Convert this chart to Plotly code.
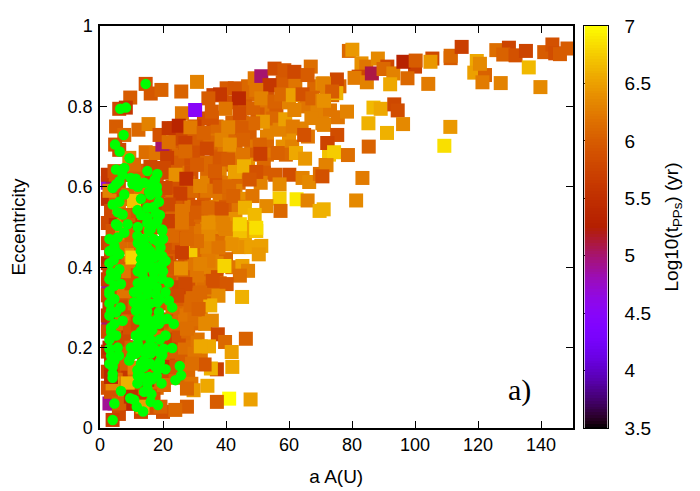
import numpy as np
import plotly.graph_objects as go

# (a, e, log10 t), region by region
# low-t squares that only peek out from under the others
buried_squares = [
    (2.6,.24,4.6),(2.6,.333,4.6),(2.5,.61,4.7),(4,.622,5.0),(3,.061,4.9),(4.6,.061,4.9),(8.2,.201,4.9),(15.6,.602,4.9),
    (14,.56,4.8),(16.6,.144,5.0),(16,.22,5.0),(2.6,.25,5.0),(2.6,.34,4.9),
]

core_squares = [
    (2.5,.63,5.6),(5,.63,5.9),(7.5,.63,6.1),(9,.63,5.8),(11,.63,6.0),(14,.63,6.2),(16,.63,5.7),(18,.63,5.9),
    (2.5,.57,5.5),(5,.57,6.0),(7.5,.57,5.8),(9,.57,6.2),(11,.57,5.9),(14,.57,6.0),(16,.57,5.6),(18,.57,5.8),
    (2.5,.51,5.8),(5,.51,5.5),(7.5,.51,6.2),(9,.51,6.0),(11,.51,5.7),(14,.51,6.1),(16,.51,5.9),(18,.51,5.7),
    (2.5,.46,5.7),(5,.46,5.9),(7.5,.46,6.0),(9,.46,6.3),(11,.46,6.1),(14,.46,5.8),(16,.46,6.0),(18,.46,5.9),
    (2.5,.41,5.4),(5,.41,5.8),(7.5,.41,5.7),(9,.41,6.1),(11,.41,5.9),(14,.41,5.7),(16,.41,6.1),(18,.41,5.8),
    (2.5,.37,5.6),(5,.37,6.0),(7.5,.37,5.9),(9,.37,5.8),(11,.37,6.2),(14,.37,5.9),(16,.37,5.6),(18,.37,6.0),
    (2.5,.33,5.7),(5,.33,5.5),(7.5,.33,6.0),(9,.33,5.9),(11,.33,5.8),(14,.33,6.1),(16,.33,5.9),(18,.33,5.7),
    (2.5,.28,5.5),(5,.28,5.8),(7.5,.28,5.6),(9,.28,6.1),(11,.28,6.0),(14,.28,5.7),(16,.28,6.0),(18,.28,5.9),
    (2.5,.24,5.8),(5,.24,5.9),(7.5,.24,6.1),(9,.24,5.6),(11,.24,5.9),(14,.24,6.0),(16,.24,5.8),(18,.24,6.1),
    (2.5,.19,5.6),(5,.19,5.7),(7.5,.19,5.9),(9,.19,6.0),(11,.19,5.7),(14,.19,5.9),(16,.19,6.1),(18,.19,5.8),
    (2.5,.14,5.7),(5,.14,6.0),(7.5,.14,5.8),(9,.14,5.6),(11,.14,6.1),(14,.14,5.7),(16,.14,5.9),(18,.14,6.0),
    (2.5,.1,5.9),(5,.1,5.6),(7.5,.1,6.1),(9,.1,5.9),(11,.1,5.5),(14,.1,6.0),(16,.1,5.7),(18,.1,6.1),
]

fill_squares = [
    (23.5,.745,5.7),(31,.745,6.0),(36,.745,5.8),(39.5,.745,6.1),(47,.745,6.2),(54,.745,6.3),(59,.745,6.2),(64,.745,6.3),
    (24,.725,5.9),(28,.725,5.8),(34,.725,6.0),(37,.725,6.2),(41,.725,5.9),(43,.725,6.1),(47.5,.725,6.0),(53,.725,6.3),(60,.725,6.4),(66,.725,6.2),
    (24.5,.7,6.0),(30,.7,5.9),(36,.7,6.1),(39,.7,6.3),(43,.7,6.0),(48,.7,6.2),(53,.7,6.1),(58,.7,6.4),(61,.7,6.3),
    (23,.68,5.8),(25,.68,6.1),(31,.68,5.9),(37,.68,6.0),(39.5,.68,6.2),(43,.68,6.3),(48,.68,6.0),(53,.68,6.2),(59,.68,6.1),
    (23,.655,5.9),(27,.655,6.0),(33,.655,6.1),(36,.655,6.3),(40,.655,5.8),(43,.655,6.2),(47,.655,6.4),(52,.655,6.1),
    (22,.635,5.8),(26,.635,6.2),(29,.635,5.9),(34,.635,6.1),(38,.635,6.3),(45,.635,6.2),(52,.635,6.0),
    (24,.61,6.0),(28,.61,6.1),(34,.61,6.3),(37,.61,5.9),(41,.61,6.2),(44,.61,6.1),(51,.61,6.3),
    (21,.59,5.9),(26,.59,6.0),(31,.59,6.2),(36,.59,6.1),(43,.59,6.3),
    (23,.57,6.1),(28,.57,5.9),(33,.57,6.0),(38,.57,6.2),(41,.57,6.1),(46,.57,6.4),
    (20,.55,5.7),(24,.55,6.0),(29,.55,6.2),(31,.55,5.9),(37,.55,6.3),(40,.55,6.0),(44,.55,6.2),
    (20,.52,5.9),(24,.52,6.1),(29,.52,6.0),(36,.52,6.2),(40,.52,6.3),(43,.52,6.4),
    (22,.5,5.8),(27,.5,6.2),(31,.5,6.1),(34,.5,6.3),(42,.5,6.4),(46,.5,6.5),
    (21,.47,6.0),(25,.47,5.9),(29,.47,6.2),(33,.47,6.3),(37,.47,6.1),(40,.47,6.3),(46,.47,6.5),
    (20,.45,5.9),(28,.45,6.1),(33,.45,6.2),(36,.45,6.3),(44,.45,6.4),(48,.45,6.5),
    (22,.42,6.0),(27,.42,5.9),(30,.42,6.2),(36,.42,6.3),(40,.42,6.1),
    (22,.4,5.8),(29,.4,6.1),(35,.4,6.3),(37,.4,6.0),(42,.4,6.2),
    (23,.38,6.0),(27,.38,6.2),(33,.38,6.1),(37,.38,5.9),
    (23,.36,5.9),(26,.36,6.1),(30,.36,6.0),(32,.36,6.2),(38,.36,6.1),
    (22,.33,5.8),(27,.33,6.1),(30,.33,6.2),(34,.33,6.3),
    (24,.31,6.0),(27,.31,6.2),(33,.31,6.1),
    (24,.285,6.1),(29,.285,6.0),(32,.285,6.3),
    (21,.26,5.9),(26,.26,6.2),(30,.26,6.1),
    (22,.23,6.0),(27,.23,6.1),
    (25,.2,5.9),(29,.2,6.2),
    (24,.17,6.0),(28,.17,6.1),(32,.17,6.2),
    (23,.13,5.9),(26,.13,6.1),
    (47,.83,6.1),(53,.79,6.2),(56,.8,6.0),(60,.81,6.3),(65,.8,6.2),(69,.79,6.3),(73,.79,6.2),(55,.77,6.1),(50,.78,6.0),
    (42,.81,5.9),(46,.8,6.0),(47,.85,6.1),(53,.84,5.9),(58,.86,6.0),(62,.86,6.2),(68,.85,6.1),(72,.84,6.3),(76,.85,6.1),
]

inner_squares = [
    (3.5,.09,5.9),(6,.035,5.8),(13,.04,5.8),(10,.06,5.4),(13,.07,5.6),(17,.08,5.9),(20,.04,5.9),(17,.05,5.9),
    (8,.09,6.2),(5,.12,6.1),(12,.1,5.9),(15,.12,5.5),(20,.13,5.8),(24,.125,6.0),(23,.16,5.8),(28,.14,6.1),
    (26,.18,6.0),(29,.11,6.2),(3.5,.16,5.5),(6,.17,5.9),(8.5,.16,6.0),(11,.15,6.3),(14,.16,5.8),(17,.17,5.6),
    (20,.18,6.0),(23,.19,6.0),(27,.2,6.15),(30,.185,6.2),(3,.2,5.4),(5,.21,5.7),(7.5,.22,5.8),(10,.2,6.0),
    (13,.21,5.7),(19,.21,5.9),(22,.22,5.7),(25,.23,5.9),(28,.24,6.1),(31,.22,6.2),
    (4.5,.26,5.6),(7,.26,6.1),(9.5,.25,5.9),(12,.26,5.8),(15,.25,6.0),(18,.26,5.7),(21,.27,5.85),(24,.26,6.1),
    (27,.28,6.2),(30,.27,6.15),(3,.3,5.6),(5.5,.31,5.9),(8,.3,5.8),(11,.31,6.0),(14,.29,5.9),(17,.3,5.6),
    (20,.31,5.9),(23,.3,6.1),(26,.32,6.0),(29,.33,6.1),(5,.35,5.8),(7.5,.34,6.2),(10,.36,5.9),
    (13,.35,6.0),(16,.34,5.7),(19,.35,5.8),(22,.36,5.95),(25,.35,5.75),(28,.37,5.9),(33,.35,6.15),(36,.35,6.1),
    (3,.39,5.7),(6,.4,6.0),(9,.39,6.2),(12,.38,5.9),(15,.4,5.8),(18,.39,6.0),(21,.41,5.8),(24,.4,5.95),
    (27,.39,6.05),(30,.41,6.2),(33,.4,6.3),(37,.41,6.3),(3.5,.44,5.8),(6.5,.45,6.1),(10,.43,6.4),(13,.44,6.1),
    (16,.45,5.9),(19,.44,6.0),(22,.45,5.9),(25,.46,6.0),(31,.44,6.1),(34,.45,6.3),(38,.46,6.15),(42,.46,6.45),
    (4,.49,5.9),(7,.5,6.3),(10,.48,6.0),(13,.5,5.7),(16,.49,6.2),(19,.5,5.9),(24,.48,6.0),(28,.5,6.1),
    (32,.49,6.2),(36,.5,6.35),(3.5,.54,5.8),(6,.55,6.2),(9,.53,6.0),(12,.54,5.9),(15,.55,5.8),(18,.53,5.7),
    (23,.53,6.05),(28,.52,6.0),(32,.53,6.1),(37,.53,6.3),(3,.59,6.3),(6,.6,5.9),(9,.58,6.1),(13,.6,6.2),
    (17,.58,5.9),(23,.6,5.9),(29,.59,6.1),(34,.59,6.2),(38,.6,6.0),(41,.6,6.1),(12,.64,6.0),(16,.65,5.8),
    (24,.66,6.0),(29,.67,5.9),(34,.66,6.1),(38,.67,5.95),(42,.66,6.2),(25,.72,5.8),(30,.72,6.0),(35,.71,6.1),
    (45,.76,6.1),(42,.76,6.05),(37,.75,6.1),(33,.77,5.9),(30,.75,5.7),
]

lower_squares = [
    (49.6,.49,6.7),(51.2,.453,6.5),(50.4,.432,6.45),(44.4,.49,6.7),(41.8,.457,6.4),(37.6,.449,6.2),(39.7,.498,6.3),
    (34.4,.482,6.35),(28.7,.442,6.75),(39.5,.403,6.8),(45.2,.403,6.5),(47,.391,6.3),(44.4,.379,6.15),(40.2,.358,5.95),
    (35.8,.366,5.9),(30.8,.379,6.2),(25.7,.397,6.4),(34.4,.416,6.25),(31.8,.408,6.3),(27.1,.358,5.8),(26,.437,5.7),
    (22.9,.478,6.1),(26,.507,6.1),(30.8,.465,6.15),(27.6,.47,6.1),(37.6,.329,6.35),(45.1,.326,6.6),(35,.305,6.6),
    (31.8,.337,6.1),(28.7,.305,6.1),(24.5,.329,5.8),(31.3,.296,6.05),(35.5,.267,6.35),(33.4,.259,6.35),(27.6,.247,6.15),
    (37.4,.233,5.8),(39.7,.214,6.1),(46.3,.222,6.05),(34.6,.203,6.55),(32,.203,6.55),(41.8,.189,6.5),(42,.152,6.55),
    (37.1,.146,5.7),(35.2,.148,6.6),(33.2,.158,5.95),(29.2,.16,6.15),(34.1,.105,6.55),(29.7,.094,6.45),(27.6,.098,6.1),
    (41,.073,7.0),(47.8,.071,6.5),(37.1,.065,6.0),(27.6,.053,6.0),(23.9,.045,6.1),(19.2,.053,6.05),(13.5,.053,6.5),
    (8.8,.111,6.6),(4,.02,5.7),(6.1,.061,6.0),(9.8,.078,5.5),(20.3,.107,6.1),(23.4,.152,5.9),
    (19.8,.152,5.5),(4,.111,6.35),(3.5,.127,5.4),(10.3,.424,6.8),
]

upper_squares = [
    (14.5,.856,5.9),(16.1,.832,5.95),(19.5,.841,6.05),(25.8,.837,6.05),(30.8,.861,6.3),(9.6,.822,6.0),(6.1,.794,5.8),
    (8.2,.797,5.6),(26,.783,6.2),(5.1,.75,6.0),(7.7,.729,6.1),(12.2,.742,6.1),(15.4,.756,6.3),(4.8,.705,5.9),(6.1,.692,5.8),
    (9.3,.672,6.3),(14.5,.686,6.15),(4.6,.639,5.9),(10.8,.655,6.1),(17.7,.684,6.2),(19.8,.705,5.0),
    (18.9,.729,5.9),(21.8,.746,5.6),(25,.752,5.35),(28.7,.748,6.25),(35.5,.772,5.9),(32.9,.734,6.05),(21.8,.711,6.15),
    (27.1,.709,5.7),(27.1,.688,6.1),(33.9,.695,5.8),(21.3,.672,5.7),(30.8,.655,6.0),(20.3,.647,5.8),(24,.63,6.4),(27.4,.62,5.5),
    (31.8,.602,6.3),(20.8,.597,5.8),(25.5,.583,5.7),(10.8,.565,6.7),(21.8,.556,5.8),(21.8,.515,5.7),
    (26,.54,6.2),(26,.511,6.2),(30.8,.536,6.0),(34.4,.548,6.1),(39.1,.507,6.3),(38.6,.546,5.9),(34.4,.511,6.4),
    (36,.828,5.7),(38.6,.828,5.9),(40.2,.845,6.0),(42.8,.845,5.95),(38.1,.83,5.6),(44.1,.82,5.4),(34.4,.82,6.0),(39.9,.794,6.2),
    (35.5,.787,6.0),(44.4,.783,5.85),(48.6,.795,6.05),(49.1,.87,6.2),(51.2,.875,5.0),(53.8,.853,5.6),(55.4,.894,5.85),(58.5,.89,5.95),
    (61.7,.886,5.8),(66.9,.899,6.15),(65.9,.878,6.0),(70.6,.857,6.35),(49.6,.841,6.2),(51.2,.82,6.3),(55.4,.812,6.05),(57.5,.83,6.1),
    (61.2,.828,6.5),(64.3,.83,5.9),(67.4,.82,6.05),(70.6,.814,6.3),(73.7,.828,6.1),(51.7,.762,6.45),(48.6,.758,6.1),(57,.742,6.3),
    (58.8,.768,6.5),(61.7,.791,6.3),(61.2,.75,6.25),(67.1,.771,6.3),(70.6,.758,6.3),(64.8,.729,5.9),(72.2,.709,5.85),(72.7,.68,6.7),
    (44.9,.746,6.0),(40.7,.748,6.3),(45.4,.717,6.05),(38.6,.717,6.3),(41.2,.705,6.4),(50.7,.705,6.05),(56.4,.684,6.05),(62.2,.684,6.55),
    (65.1,.67,6.45),(50.9,.682,5.7),(45.4,.68,6.2),(40.7,.668,6.0),(36.5,.639,6.0),(42.8,.637,6.5),(45.7,.651,6.6),(49.6,.637,5.9),
    (47.5,.618,5.95),(55.6,.63,6.0),(60.1,.63,5.85),(64.3,.622,6.3),(66.4,.612,6.35),(69.8,.632,6.15),(71.6,.654,6.2),(57,.606,6.35),
    (57,.571,6.75),(62.4,.569,6.9),(65.9,.566,6.3),(69.7,.54,6.6),(57.3,.54,6.1),(52.8,.552,6.35),(48.4,.577,6.2),(42.3,.577,6.05),
    (46,.548,6.6),(49.1,.53,6.65),(44.4,.507,6.8),(49.6,.498,6.85),(30.2,.791,4.5),
]

far_squares = [
    (79,.938,6.1),(80.1,.941,6.45),(83,.907,6.4),(84.5,.899,6.2),(88.2,.919,6.35),(91.2,.899,5.8),(82.1,.874,5.8),(80.8,.871,6.25),
    (84.7,.86,6.3),(86.3,.882,5.1),(90,.893,6.1),(93.1,.882,6.3),(92.1,.855,6.55),(100,.899,5.7),(96.3,.911,5.3),(100.2,.914,6.0),
    (97.6,.87,6.1),(105.5,.919,5.8),(104.9,.911,6.45),(104.2,.856,6.25),(111.3,.92,6.0),(111.3,.926,6.1),(114.8,.948,5.7),(119.6,.913,6.55),
    (118.8,.884,6.5),(122.2,.878,6.05),(120.6,.906,6.35),(121.4,.86,6.25),(127.2,.858,6.3),(125.8,.94,6.15),(129.8,.946,5.75),(128,.929,6.05),
    (131.9,.927,5.9),(135.2,.938,5.75),(141,.935,6.0),(143.6,.954,5.9),(144.5,.932,5.85),(146,.93,6.0),(148.4,.944,6.0),(136.1,.897,6.65),
    (139.8,.848,6.35),(75.2,.867,5.8),(75,.833,6.6),(71.1,.857,6.3),(73.7,.837,6.0),(71.1,.814,6.4),(75.5,.773,6.2),(78.4,.787,6.3),
    (86.8,.797,6.65),(89.1,.794,6.55),(93.4,.805,5.8),(94.5,.79,5.85),(85.2,.758,6.6),(96.2,.756,6.35),(91.1,.734,6.6),(111.2,.749,6.45),
    (109.3,.702,6.85),(71.1,.754,6.3),(75.3,.729,5.85),(72.2,.709,5.75),(74.3,.686,6.75),(78.7,.679,6.15),(85.3,.7,6.05),(71.9,.654,6.3),
    (83.3,.622,6.25),(81.3,.566,6.35),(70.6,.626,5.9),(71,.544,6.6),
]

# green population, (a, e)
green_low = [
    (4.03,.02),(4.56,.061),(6.65,.092),(9.59,.074),(10.85,.07),(11.68,.053),(13.68,.041),(18.39,.057),(16.09,.065),(16.3,.084),
    (15.04,.098),(11.89,.111),(19.54,.111),(23.95,.119),(25.73,.131),(25.31,.154),(20.8,.146),(18.7,.148),(16.6,.121),(15.56,.127),
    (13.47,.127),(11.89,.144),(17.66,.152),(14,.152),(9.27,.168),(11.37,.185),(14,.168),(16.09,.185),(19.75,.181),(22.9,.199),
    (20.28,.197),(18.7,.189),(9.8,.2),(11.89,.206),(15.04,.2),(13.47,.23),(11.37,.23),(14,.251),(15.56,.243),(20.8,.23),
    (23.42,.259),(21.33,.272),(18.7,.259),(16.6,.243),(13.47,.267),(15.04,.272),(14,.288),(11.37,.292),(10.8,.313),(14,.309),
    (18.7,.288),(22.9,.3),(21.85,.317),(18.18,.313),(20.8,.338),(17.66,.333),(15.04,.333),(11.89,.338),(10.8,.338),(13.47,.354),
    (16.09,.358),(19.75,.371),(21.85,.362),(17.13,.387),(13.47,.383),(12.94,.403),(15.56,.412),(19.75,.408),(20.8,.416),(19.75,.428),
    (17.13,.424),(14.51,.428),(12.94,.441),(15.04,.449),(19.22,.449),(18.18,.465),(14,.457),(11.89,.478),(15.56,.49),(19.75,.49),
]

green_left = [
    (17.13,.507),(5.6,.503),(7.7,.486),(5.6,.474),(4.56,.453),(6.13,.432),(4.35,.418),(3.51,.387),
    (6.13,.395),(5.08,.379),(6.65,.358),(4.56,.354),(2.99,.333),(4.56,.321),(3.51,.292),(5.08,.288),(7.18,.267),(4.56,.259),
    (3.51,.239),(5.08,.23),(2.99,.197),(5.6,.2),(4.56,.168),(4.03,.152),(4.03,.135),(2.99,.16),
    (3,.47),(3,.44),(5,.44),(3,.41),(3,.37),(3,.34),(3,.31),(6.5,.3),(3,.28),(3.5,.25),(3,.22),(3.5,.18),(6,.18),(4,.125),
]

green_right = [
    (12,.6),(14,.61),(16,.58),(18,.6),(13,.57),(17,.55),(19,.53),(13,.53),(15,.51),(12,.5),(14,.47),(17,.47),(20,.47),(12,.46),
    (16,.44),(18,.43),(13,.42),(15,.4),(18,.4),(12,.39),(14,.37),(17,.37),(20,.39),(12,.36),(15,.34),(18,.35),(13,.32),(16,.31),
    (19,.32),(12,.3),(15,.29),(18,.27),(12,.27),(16,.26),(20,.27),(13,.24),(16,.22),(19,.22),(12,.21),(14,.19),(17,.2),(10,.18),
    (13,.16),(16,.16),(19,.165),(12,.13),(15,.11),(18,.13),(14,.09),
]

green_high = [
    (14.51,.856),(6.44,.794),(8.23,.797),(7.49,.729),(4.77,.705),(6.23,.688),(9.38,.671),(5.08,.643),(7.7,.647),(7.18,.63),
    (11.37,.62),(9.8,.622),(6.13,.614),(5.08,.606),(4.03,.597),(10.32,.607),(15.04,.639),(18.18,.632),(17.45,.618),(16.3,.607),
    (15.56,.587),(18.18,.585),(18.7,.563),(11.89,.542),(7.7,.581),(6.13,.563),(4.03,.556),(5.6,.537),(7.18,.531),(8.75,.507),
    (5.08,.507),(17.66,.535),(15.04,.548),(15.04,.523),(18.18,.515),(16.09,.494),(19.75,.494),
]

cb_ticks = [3.5, 4, 4.5, 5, 5.5, 6, 6.5, 7]
x_ticks = [0, 20, 40, 60, 80, 100, 120, 140]
y_ticks = [0, 0.2, 0.4, 0.6, 0.8, 1]


# gnuplot default pm3d palette (rgbformulae 7,5,15)
def gnuplot_color(g):
    r = np.sqrt(g)
    gr = g ** 3
    b = max(np.sin(2 * np.pi * g), 0)
    return f"rgb({int(r*255)},{int(gr*255)},{int(b*255)})"


palette = [[g, gnuplot_color(g)] for g in np.linspace(0, 1, 65)]

squares = buried_squares + core_squares + fill_squares + inner_squares + lower_squares + upper_squares + far_squares
greens = green_low + green_left + green_right + green_high

fig = go.Figure()
fig.add_trace(go.Scatter(
    x=[p[0] for p in squares], y=[p[1] for p in squares], mode="markers", cliponaxis=False,
    marker=dict(symbol="square", size=14, color=[p[2] for p in squares], colorscale=palette,
                cmin=3.5, cmax=7, line=dict(width=0)),
    showlegend=False))
fig.add_trace(go.Scatter(
    x=[p[0] for p in greens], y=[p[1] for p in greens], mode="markers", cliponaxis=False,
    marker=dict(symbol="circle", size=10.5, color="#00ff00", line=dict(width=0)),
    showlegend=False))

# colour box as its own little axes so the ticks can be dashed like the original
cb_levels = np.linspace(3.5, 7, 141)
fig.add_trace(go.Heatmap(
    x=[0], y=cb_levels, z=[[v] for v in cb_levels], colorscale=palette, zmin=3.5, zmax=7,
    showscale=False, xaxis="x2", yaxis="y2", hoverinfo="skip"))

font = dict(family="Liberation Sans, Arial, sans-serif", size=18, color="black")
title_font = dict(family="Liberation Sans, Arial, sans-serif", size=19, color="black")

# page body adds 8px round the figure, so the box sits 8px up and left of its place in the picture
# margins hold the real plot box, so automargin has nothing to push
ml, mr, mt, mb = 87, 8, 15, 71
span = 700 - ml - mr

fig.update_layout(
    width=700, height=491, autosize=False,
    margin=dict(l=ml, r=mr, t=mt, b=mb, pad=0),
    paper_bgcolor="white", plot_bgcolor="white",
    font=font,
    xaxis=dict(domain=[0, 476.5 / span], range=[0, 150], tickvals=x_ticks,
               ticks="inside", ticklen=7, tickwidth=1, tickcolor="black",
               showline=True, linecolor="black", linewidth=1.5, mirror="ticks",
               showgrid=False, zeroline=False,
               title=dict(text="a A(U)", standoff=15, font=title_font)),
    yaxis=dict(domain=[0, 1], range=[0, 1], tickvals=y_ticks, tickformat="~g",
               ticks="inside", ticklen=7, tickwidth=1, tickcolor="black",
               showline=True, linecolor="black", linewidth=1.5, mirror="ticks",
               showgrid=False, zeroline=False, ticklabelstandoff=2,
               title=dict(text="Eccentricity", standoff=38, font=title_font)),
    xaxis2=dict(domain=[488.5 / span, 512 / span], anchor="y2", range=[-0.5, 0.5], showticklabels=False,
                ticks="", showline=True, linecolor="black", linewidth=1, mirror=True,
                showgrid=False, zeroline=False),
    yaxis2=dict(domain=[0, 1], anchor="x2", side="right", range=[3.5, 7], tickvals=cb_ticks,
                tickfont=dict(size=19), tickformat="~g", ticks="", ticklabelstandoff=12, showline=True,
                linecolor="black", linewidth=1, mirror=True,
                showgrid=True, gridcolor="black", gridwidth=1, griddash="7px,5px", zeroline=False,
                title=dict(text="Log10(t<sub>PPs</sub>) (yr)", standoff=14, font=title_font)),
    annotations=[dict(x=133.3, y=0.094, xref="x", yref="y", text="a)", showarrow=False,
                      font=dict(family="Liberation Serif, Times New Roman, serif", size=30, color="black"))],
)

fig.write_html("out.html")
